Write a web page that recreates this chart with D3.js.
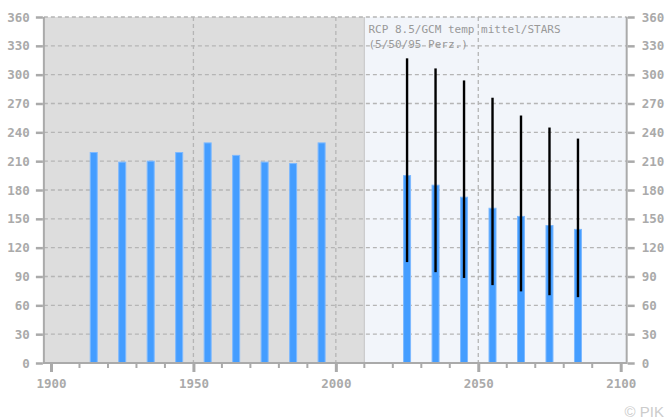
<!DOCTYPE html>
<html>
<head>
<meta charset="utf-8">
<script src="https://cdn.jsdelivr.net/npm/d3@7"></script>
<style>
  html, body { margin: 0; padding: 0; background: #ffffff; }
  svg { display: block; }
</style>
</head>
<body>
<script>
// Observed period (decades centred on 1915 … 1995)
const histYears = [1915, 1925, 1935, 1945, 1955, 1965, 1975, 1985, 1995];
const histValues = [219, 209, 210, 219, 229, 216, 209, 207.5, 229];

// Scenario period: median with 5th / 95th percentile range
const projYears = [2025, 2035, 2045, 2055, 2065, 2075, 2085];
const projMedian = [195, 185, 172.5, 161, 152.5, 143, 139];
const projP05 = [105, 94.5, 88.5, 81, 74.5, 70.5, 68.5];
const projP95 = [317, 306.5, 294, 276, 257.5, 245, 233.5];

const yTicks = [0, 30, 60, 90, 120, 150, 180, 210, 240, 270, 300, 330, 360];
const xMajorTicks = [1900, 1950, 2000, 2050, 2100];
const xMinorTicks = [1910, 1920, 1930, 1940, 1960, 1970, 1980, 1990,
                     2010, 2020, 2030, 2040, 2060, 2070, 2080, 2090];
const xGridYears = [1950, 2000, 2050];
const legendLines = ["RCP 8.5/GCM temp mittel/STARS", "(5/50/95 Perz.)"];

const W = 666, H = 419;
const svg = d3.select("body").append("svg").attr("width", W).attr("height", H);

const x = d3.scaleLinear().domain([1900, 2100]).range([51, 620.7]);
const y = d3.scaleLinear().domain([0, 360]).range([363, 17]);

const xLeft = x(1897.5), xRight = x(2102.1), xSplit = x(2010);
const axisGrey = "#aaaaaa";
const labelFont = "'DejaVu Sans Mono', 'Liberation Mono', monospace";

// Backgrounds: observed period grey, scenario period pale blue
svg.append("rect").attr("x", xLeft).attr("y", y(360))
  .attr("width", xSplit - xLeft).attr("height", y(0) - y(360)).attr("fill", "#dddddd");
svg.append("rect").attr("x", xSplit).attr("y", y(360))
  .attr("width", xRight - xSplit).attr("height", y(0) - y(360)).attr("fill", "#f2f5fa");
svg.append("line").attr("x1", xSplit).attr("x2", xSplit).attr("y1", y(360)).attr("y2", y(0))
  .attr("stroke", "#c4c4c4").attr("stroke-width", 1);

// Dashed grid
const grid = svg.append("g").attr("stroke", "#b5b5b5").attr("stroke-width", 1.3)
  .attr("stroke-dasharray", "4,3");
grid.selectAll("line.h").data(yTicks.filter(d => d > 0)).join("line").attr("class", "h")
  .attr("x1", xLeft).attr("x2", xRight).attr("y1", d => y(d)).attr("y2", d => y(d));
grid.selectAll("line.v").data(xGridYears).join("line").attr("class", "v")
  .attr("x1", d => x(d)).attr("x2", d => x(d)).attr("y1", y(360)).attr("y2", y(0));

// Legend text
const legend = svg.append("text").attr("x", 368.5).attr("y", 33)
  .attr("font-family", labelFont).attr("font-size", 11).attr("fill", "#999999");
legendLines.forEach((t, i) => legend.append("tspan").attr("x", 368.5).attr("dy", i === 0 ? 0 : 15).text(t));

// Bars
const barW = 8;
const allBars = histYears.map((yr, i) => ({ yr, v: histValues[i] }))
  .concat(projYears.map((yr, i) => ({ yr, v: projMedian[i] })));
svg.append("g").selectAll("rect").data(allBars).join("rect")
  .attr("x", d => x(d.yr) - barW / 2 + 0.5)
  .attr("y", d => y(d.v))
  .attr("width", barW - 1)
  .attr("height", d => y(0) - y(d.v))
  .attr("fill", "#449dff")
  .attr("stroke", "#7db9ff").attr("stroke-width", 1);

// Percentile ranges
svg.append("g").selectAll("line").data(projYears).join("line")
  .attr("x1", d => x(d)).attr("x2", d => x(d))
  .attr("y1", (d, i) => y(projP95[i])).attr("y2", (d, i) => y(projP05[i]))
  .attr("stroke", "#000000").attr("stroke-width", 2.4);

// Axis frame
const frame = svg.append("g").attr("stroke", axisGrey).attr("stroke-width", 2);
frame.append("line").attr("x1", xLeft).attr("x2", xLeft).attr("y1", y(360)).attr("y2", y(0) + 1);
frame.append("line").attr("x1", xRight).attr("x2", xRight).attr("y1", y(360)).attr("y2", y(0) + 1);
frame.append("line").attr("x1", xLeft).attr("x2", xRight).attr("y1", y(0)).attr("y2", y(0));

// Y axes (left and right)
const yLeft = d3.axisLeft(y).tickValues(yTicks).tickSize(7).tickPadding(6);
const yRight = d3.axisRight(y).tickValues(yTicks).tickSize(7).tickPadding(7);
function styleAxis(g) {
  g.select(".domain").remove();
  g.selectAll(".tick line").attr("stroke", axisGrey).attr("stroke-width", 2.5);
  g.selectAll(".tick text").attr("fill", axisGrey).attr("font-family", labelFont)
    .attr("font-weight", "bold").attr("font-size", 12.5);
}
svg.append("g").attr("transform", `translate(${xLeft - 1},0)`).call(yLeft).call(styleAxis);
svg.append("g").attr("transform", `translate(${xRight + 1},0)`).call(yRight).call(styleAxis);

// X axis: major labelled ticks and minor decade ticks
const xAxis = d3.axisBottom(x).tickValues(xMajorTicks).tickFormat(d3.format("d"))
  .tickSize(8).tickPadding(7);
svg.append("g").attr("transform", `translate(0,${y(0) + 1})`).call(xAxis).call(g => {
  g.select(".domain").remove();
  g.selectAll(".tick line").attr("stroke", axisGrey).attr("stroke-width", 3);
  g.selectAll(".tick text").attr("fill", axisGrey).attr("font-family", labelFont)
    .attr("font-weight", "bold").attr("font-size", 12.5);
});
svg.append("g").selectAll("line").data(xMinorTicks).join("line")
  .attr("x1", d => x(d)).attr("x2", d => x(d))
  .attr("y1", y(0) + 1).attr("y2", y(0) + 5)
  .attr("stroke", axisGrey).attr("stroke-width", 2);

// Copyright
svg.append("text").attr("x", 664).attr("y", 416.5).attr("text-anchor", "end")
  .attr("font-family", "'Liberation Sans', Arial, sans-serif").attr("font-size", 15)
  .attr("fill", "#cccccc").text("© PIK");
</script>
</body>
</html>
